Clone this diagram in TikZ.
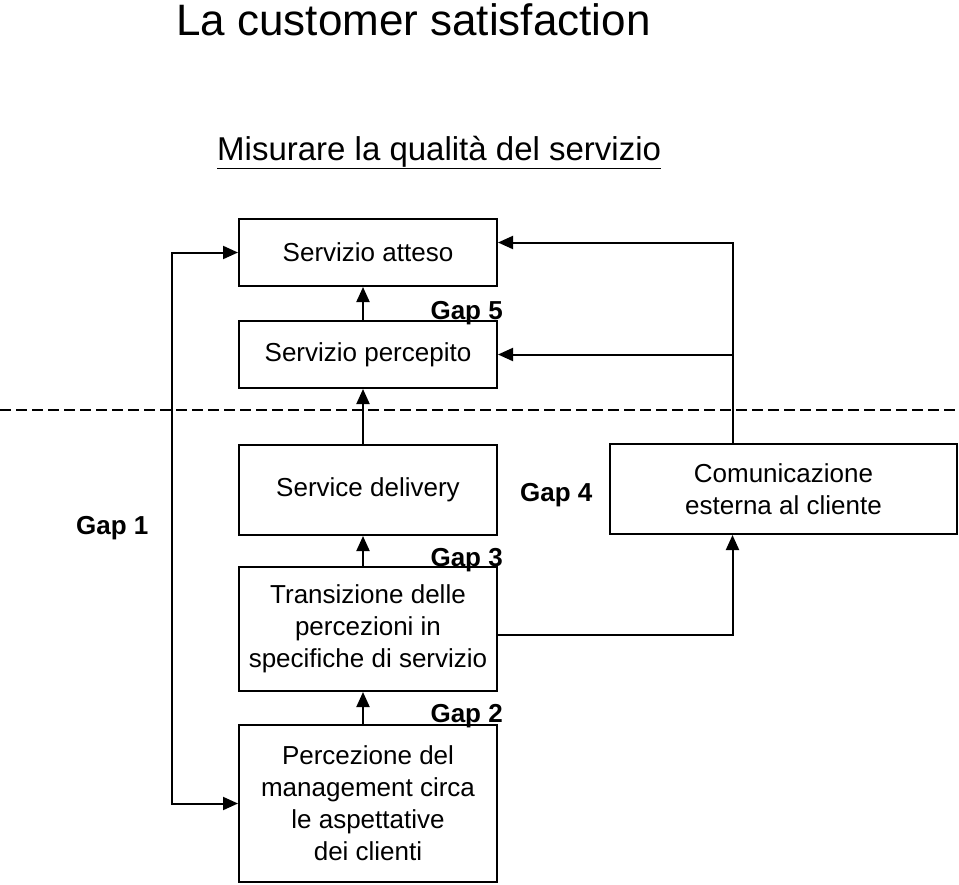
\documentclass[tikz,border=0pt]{standalone}
\usepackage{fontspec}
\setmainfont{Liberation Sans}
\usetikzlibrary{arrows.meta}
\tikzset{
  box/.style={draw, line width=2pt, align=center, minimum width=258pt,
    font=\fontsize{26}{32}\selectfont},
  gaplabel/.style={inner sep=0pt, font=\fontsize{26}{32}\selectfont\bfseries},
  arr/.style={line width=2pt, -{Triangle[length=15pt,width=13pt]}}
}
\begin{document}
\begin{tikzpicture}[x=1pt,y=-1pt]
      \useasboundingbox (0,0) rectangle (959,884);
      \draw
        (176,35) node[anchor=base west, inner sep=0pt, font=\fontsize{44}{50}\selectfont] (title){La customer satisfaction}
        (217,160) node[anchor=base west, inner sep=0pt, font=\fontsize{33}{40}\selectfont] (subtitle){\underline{Misurare la qualità del servizio}}
        (368,252.5) node[box, minimum height=67pt] (atteso){Servizio atteso}
        (368,354.5) node[box, minimum height=67pt] (percepito){Servizio percepito}
        (368,490) node[box, minimum height=90pt] (delivery){Service delivery}
        (368,629) node[box, minimum height=124pt] (transiz){Transizione delle\\percezioni in\\specifiche di servizio}
        (368,803.5) node[box, minimum height=157pt] (percez){Percezione del\\management circa\\le aspettative\\dei clienti}
        (783.5,489) node[box, minimum width=347pt, minimum height=90pt] (comunic){Comunicazione\\esterna al cliente};
      \draw
        (503,319) node[gaplabel, anchor=base east] (gap5){Gap 5}
        (503,566) node[gaplabel, anchor=base east] (gap3){Gap 3}
        (503,722) node[gaplabel, anchor=base east] (gap2){Gap 2}
        (520,501) node[gaplabel, anchor=base west] (gap4){Gap 4}
        (76,534) node[gaplabel, anchor=base west] (gap1){Gap 1};
      \draw[line width=2pt, dash pattern=on 11pt off 5pt] (0,410) -- (959,410);
      \coordinate (lft) at (172,527);
      \coordinate (rgt) at ([xshift=-51pt]comunic.north);
      \begin{scope}[arr]
        \draw ([xshift=-5pt]percepito.north) to ([xshift=-5pt]atteso.south);
        \draw ([xshift=-5pt]delivery.north) to ([xshift=-5pt]percepito.south);
        \draw ([xshift=-5pt]transiz.north) to ([xshift=-5pt]delivery.south);
        \draw ([xshift=-5pt]percez.north) to ([xshift=-5pt]transiz.south);
        \draw (rgt) |- ([yshift=10pt]atteso.east);
        \draw (rgt) |- (percepito.east);
        \draw ([yshift=-6pt]transiz.east) -| ([xshift=-51pt]comunic.south);
        \draw (lft) |- (atteso.west);
        \draw (lft) |- (percez.west);
      \end{scope}
    \end{tikzpicture}
\end{document}
